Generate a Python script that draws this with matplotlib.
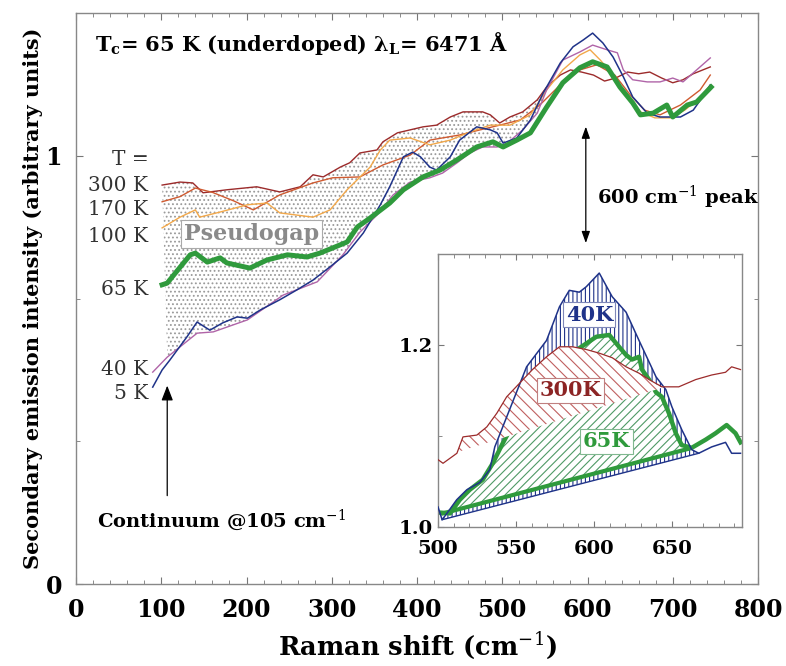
import numpy as np
import matplotlib
matplotlib.use("Agg")
import matplotlib.pyplot as plt
from matplotlib.ticker import MultipleLocator, FixedLocator

plt.rcParams['font.family'] = ['DejaVu Serif']
plt.rcParams['mathtext.fontset'] = 'dejavuserif'
plt.rcParams['hatch.linewidth'] = 0.8

# %% main spectra (Raman shift cm-1, intensity)
x_300 = [101, 122, 137, 149, 177, 212, 239, 263, 278, 290, 310, 321, 333, 353, 360, 377, 392, 407, 423, 439,
         454, 477, 486, 497, 509, 524, 541, 552, 568, 580, 593, 607, 620, 633, 647, 660, 673, 687, 700, 712, 724, 744]
y_300 = [0.932, 0.939, 0.937, 0.914, 0.921, 0.928, 0.916, 0.928, 0.956, 0.951, 0.974, 0.984, 1.007, 1.014, 1.033,
         1.054, 1.061, 1.068, 1.072, 1.091, 1.103, 1.103, 1.096, 1.077, 1.091, 1.103, 1.131, 1.161, 1.189, 1.201,
         1.196, 1.189, 1.175, 1.182, 1.196, 1.192, 1.196, 1.182, 1.171, 1.178, 1.192, 1.208]

x_170 = [101, 122, 140, 160, 185, 208, 239, 278, 301, 333, 360, 392, 415, 450, 474, 497, 521, 544, 568, 591,
         611, 632, 650, 667, 685, 709, 732, 744]
y_170 = [0.893, 0.905, 0.925, 0.915, 0.895, 0.874, 0.909, 0.937, 0.949, 0.951, 0.979, 1.002, 1.037, 1.049, 1.061,
         1.072, 1.084, 1.119, 1.166, 1.201, 1.213, 1.189, 1.143, 1.107, 1.096, 1.119, 1.154, 1.189]

x_100 = [101, 122, 140, 145, 169, 201, 224, 239, 278, 298, 318, 345, 357, 368, 392, 415, 439, 462, 486, 509,
         533, 552, 571, 591, 603, 615, 630, 646, 662, 679, 697, 714, 732, 744]
y_100 = [0.832, 0.857, 0.874, 0.857, 0.869, 0.886, 0.890, 0.867, 0.857, 0.874, 0.921, 0.974, 1.014, 1.037, 1.042,
         1.026, 1.037, 1.056, 1.072, 1.072, 1.096, 1.154, 1.201, 1.236, 1.248, 1.224, 1.189, 1.143, 1.103, 1.089,
         1.089, 1.107, 1.136, 1.166]

x_65 = [101, 107, 120, 134, 140, 154, 169, 177, 204, 224, 248, 271, 286, 301, 318, 330, 345, 368, 384, 407,
        427, 447, 470, 489, 501, 517, 533, 552, 571, 591, 606, 623, 638, 653, 662, 677, 693, 700, 717, 728, 745]
y_65 = [0.699, 0.703, 0.735, 0.769, 0.773, 0.752, 0.762, 0.750, 0.738, 0.757, 0.769, 0.764, 0.773, 0.785, 0.799,
        0.834, 0.855, 0.890, 0.921, 0.951, 0.967, 0.991, 1.021, 1.033, 1.021, 1.037, 1.054, 1.114, 1.171, 1.206,
        1.220, 1.208, 1.161, 1.124, 1.096, 1.100, 1.119, 1.091, 1.119, 1.126, 1.161]

x_40 = [90, 101, 110, 130, 142, 157, 172, 189, 201, 216, 239, 259, 278, 298, 318, 337, 357, 368, 384, 395,
        404, 415, 423, 439, 450, 470, 486, 494, 501, 517, 533, 548, 568, 583, 595, 606, 618, 630, 642, 653,
        670, 685, 709, 724, 735, 744]
y_40 = [0.460, 0.500, 0.523, 0.577, 0.612, 0.593, 0.610, 0.624, 0.621, 0.640, 0.664, 0.687, 0.710, 0.741, 0.773,
        0.820, 0.886, 0.928, 0.998, 1.009, 0.998, 0.974, 0.967, 0.998, 1.037, 1.068, 1.061, 1.054, 1.030, 1.042,
        1.084, 1.147, 1.217, 1.255, 1.271, 1.287, 1.264, 1.231, 1.185, 1.138, 1.100, 1.091, 1.091, 1.107, 1.138,
        1.166]

x_5 = [90, 107, 142, 161, 201, 243, 283, 313, 333, 353, 372, 392, 415, 430, 447, 462, 477, 494, 506, 524,
       541, 552, 571, 591, 606, 623, 635, 642, 653, 670, 685, 700, 712, 724, 744]
y_5 = [0.495, 0.530, 0.586, 0.589, 0.617, 0.675, 0.706, 0.769, 0.822, 0.862, 0.909, 0.939, 0.949, 0.960, 0.984,
       1.007, 1.021, 1.021, 1.030, 1.061, 1.100, 1.154, 1.224, 1.243, 1.259, 1.248, 1.241, 1.201, 1.178, 1.173,
       1.173, 1.182, 1.173, 1.194, 1.229]

temp_labels = ["T =", "300 K", "170 K", "100 K", "65 K", "40 K", "5 K"]
temp_label_y = [0.991, 0.932, 0.874, 0.813, 0.687, 0.500, 0.444]

# %% inset: 600 cm-1 peak
ix_40 = [500, 502.6, 505.7, 512, 518.5, 526.8, 533.2, 536.4, 541.5, 556.8, 569.6, 577.9, 584.2, 590.6, 595.1,
         603.4, 611.7, 620.6, 628.9, 639.8, 646.1, 650, 656.3, 662.7, 667.2, 675.5, 684.4, 688.3, 694]
iy_40 = [1.022, 1.008, 1.015, 1.030, 1.041, 1.049, 1.063, 1.088, 1.110, 1.176, 1.205, 1.242, 1.260, 1.258, 1.264,
         1.279, 1.253, 1.236, 1.205, 1.165, 1.151, 1.132, 1.107, 1.085, 1.081, 1.088, 1.093, 1.081, 1.081]
ibase_40 = ([502.6, 667.2], [1.008, 1.081])

ix_65 = [500, 507.7, 514, 520.4, 528.7, 535.1, 541.5, 552, 565, 585, 601.5, 609.8, 616.1, 620.6, 624.4, 628.9,
         630.8, 635.3, 639.8, 643.6, 648.1, 652.5, 656.3, 662.7, 671.7, 678, 685.1, 690.8, 694]
iy_65 = [1.016, 1.015, 1.030, 1.041, 1.052, 1.070, 1.092, 1.125, 1.155, 1.190, 1.209, 1.211, 1.198, 1.189, 1.184,
         1.187, 1.173, 1.162, 1.148, 1.143, 1.125, 1.103, 1.090, 1.087, 1.096, 1.103, 1.112, 1.103, 1.093]
ibase_65 = ([503.2, 660.8], [1.015, 1.086])

ix_300 = [500, 503.2, 512.1, 516, 524.9, 531.3, 537.7, 544, 552.3, 560.6, 569.6, 577.9, 586.2, 595.1, 603.4,
          611.7, 620.6, 628.9, 635.3, 643.6, 654.4, 665.3, 675.5, 684.4, 688.3, 694]
iy_300 = [1.074, 1.070, 1.081, 1.099, 1.101, 1.110, 1.125, 1.143, 1.158, 1.173, 1.187, 1.198, 1.198, 1.195,
          1.191, 1.186, 1.176, 1.169, 1.162, 1.154, 1.154, 1.162, 1.167, 1.170, 1.176, 1.173]
ibase_300 = ([510, 643.6], [1.081, 1.153])

c_300 = '#9c2b2b'
c_170 = '#cf5a30'
c_100 = '#f2a84a'
c_65 = '#2f9a3c'
c_40 = '#1f3389'
c_5 = '#b064a8'

fig = plt.figure(figsize=(7.86, 6.66), dpi=100)
ax = fig.add_axes([0.0967, 0.1231, 0.8677, 0.8574])

# stippled pseudogap area between 300 K and 5 K curves
up = [(x, y) for x, y in zip(x_300, y_300) if x <= 552]
lo = [(x, y) for x, y in zip(x_5, y_5) if 100 <= x <= 552]
poly = up + lo[::-1]
ax.fill([p[0] for p in poly], [p[1] for p in poly], facecolor='none', edgecolor='#9a9a9a',
        hatch='....', linewidth=0, zorder=1)

ax.plot(x_300, y_300, color=c_300, lw=1.0, zorder=3)
ax.plot(x_170, y_170, color=c_170, lw=1.0, zorder=3)
ax.plot(x_100, y_100, color=c_100, lw=1.0, zorder=3)
ax.plot(x_5, y_5, color=c_5, lw=1.0, zorder=3)
ax.plot(x_40, y_40, color=c_40, lw=1.1, zorder=3)
ax.plot(x_65, y_65, color=c_65, lw=3.6, zorder=4)

ax.set_xlim(0, 800)
ax.set_ylim(0, 1.334)
ax.xaxis.set_major_locator(MultipleLocator(100))
ax.xaxis.set_minor_locator(MultipleLocator(20))
ax.yaxis.set_major_locator(FixedLocator([0, 1]))
ax.yaxis.set_minor_locator(FixedLocator([1 / 3, 2 / 3, 4 / 3]))
ax.tick_params(which='both', direction='in', top=True, right=True, color='#777777')
ax.tick_params(which='major', length=5, labelsize=17, pad=10)
ax.tick_params(which='minor', length=3)
for lab in ax.get_xticklabels() + ax.get_yticklabels():
    lab.set_fontweight('bold')
for s in ax.spines.values():
    s.set_color('#888888')
    s.set_linewidth(1.0)

ax.set_xlabel("Raman shift (cm$^{-1}$)", fontsize=18.5, fontweight='bold', labelpad=6)
ax.set_ylabel("Secondary emission intensity (arbitrary units)", fontsize=15, fontweight='bold', labelpad=2)

ax.text(22, 1.262, "T$_\\mathbf{c}$= 65 K (underdoped) λ$_\\mathbf{L}$= 6471 Å", fontsize=15,
        fontweight='bold', ha='left', va='center')

for lab, yy in zip(temp_labels, temp_label_y):
    ax.text(85, yy, lab, fontsize=14.5, ha='right', va='center', color='#333333')

ax.text(206, 0.818, "Pseudogap", fontsize=16, fontweight='bold', color='#8a8a8a', ha='center', va='center',
        bbox=dict(boxstyle='square,pad=0.12', facecolor='white', edgecolor='#aaaaaa', lw=0.8), zorder=6)

ax.annotate("", xy=(107, 0.47), xytext=(107, 0.2),
            arrowprops=dict(arrowstyle='-|>,head_width=0.35,head_length=0.9', color='black', lw=0.9))
ax.text(171, 0.15, "Continuum @105 cm$^{-1}$", fontsize=14, fontweight='bold', ha='center', va='center')

ax.annotate("", xy=(598, 1.075), xytext=(598, 0.79),
            arrowprops=dict(arrowstyle='<|-|>,head_width=0.25,head_length=0.7', color='black', lw=0.9))
ax.text(611, 0.904, "600 cm$^{-1}$ peak", fontsize=14, fontweight='bold', ha='left', va='center')

# %% inset
axi = fig.add_axes([0.5573, 0.2087, 0.3868, 0.41])
axi.set_facecolor('white')


def region(xs, ys, base, lo_x, hi_x):
    pts = [(x, y) for x, y in zip(xs, ys) if lo_x < x < hi_x]
    px = [base[0][0]] + [p[0] for p in pts] + [base[0][1]]
    py = [base[1][0]] + [p[1] for p in pts] + [base[1][1]]
    return px, py


px, py = region(ix_40, iy_40, ibase_40, ibase_40[0][0], ibase_40[0][1])
axi.fill(px, py, facecolor='white', edgecolor=c_40, hatch='||||', linewidth=0, zorder=1)
px, py = region(ix_65, iy_65, ibase_65, ibase_65[0][0], ibase_65[0][1])
axi.fill(px, py, facecolor='white', edgecolor='#4f9a66', hatch='////', linewidth=0, zorder=2)
axi.plot(ix_65, iy_65, color=c_65, lw=3.2, zorder=2.5)
px, py = region(ix_300, iy_300, ibase_300, ibase_300[0][0], ibase_300[0][1])
axi.fill(px, py, facecolor='white', edgecolor='#c06060', hatch='\\\\\\', linewidth=0, zorder=3)

axi.plot(ibase_40[0], ibase_40[1], color=c_40, lw=1.0, zorder=4)
axi.plot(ibase_65[0], ibase_65[1], color=c_65, lw=3.0, zorder=4)
axi.plot(ix_40, iy_40, color=c_40, lw=1.1, zorder=4)
axi.plot(ix_300, iy_300, color=c_300, lw=0.9, zorder=4)

axi.set_xlim(500, 695)
axi.set_ylim(1.0, 1.30)
axi.xaxis.set_major_locator(FixedLocator([500, 550, 600, 650]))
axi.xaxis.set_minor_locator(MultipleLocator(10))
axi.yaxis.set_major_locator(FixedLocator([1.0, 1.2]))
axi.yaxis.set_minor_locator(FixedLocator([1.1]))
axi.yaxis.set_major_formatter(plt.FormatStrFormatter('%.1f'))
axi.tick_params(which='both', direction='in', top=True, right=True, color='#777777')
axi.tick_params(which='major', length=4, labelsize=14)
axi.tick_params(axis='x', which='major', pad=9)
axi.tick_params(which='minor', length=3)
for lab in axi.get_xticklabels() + axi.get_yticklabels():
    lab.set_fontweight('bold')
for s in axi.spines.values():
    s.set_color('#888888')
    s.set_linewidth(1.0)

box = dict(boxstyle='square,pad=0.12', facecolor='white', lw=0.8)
axi.text(597, 1.233, "40K", fontsize=15, fontweight='bold', color=c_40, ha='center', va='center',
         bbox=dict(box, edgecolor='#7f88b8'), zorder=6)
axi.text(585, 1.150, "300K", fontsize=15, fontweight='bold', color='#8c2424', ha='center', va='center',
         bbox=dict(box, edgecolor='#c08080'), zorder=6)
axi.text(608, 1.094, "65K", fontsize=15, fontweight='bold', color=c_65, ha='center', va='center',
         bbox=dict(box, edgecolor='#80b890'), zorder=6)

fig.savefig("out.png", dpi=100)
